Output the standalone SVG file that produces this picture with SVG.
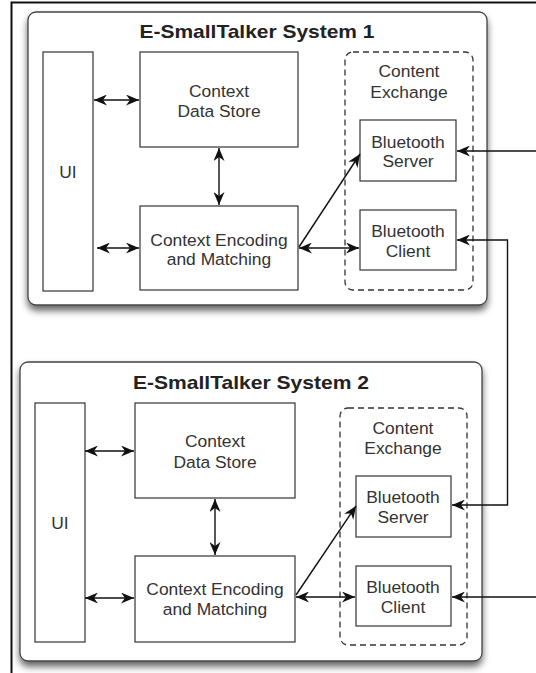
<svg xmlns="http://www.w3.org/2000/svg" width="536" height="673" viewBox="0 0 536 673">
<style>
.sys{fill:#fff;stroke:#444;stroke-width:1.3}
.box{fill:#fff;stroke:#333;stroke-width:1.2}
.dash{fill:none;stroke:#333;stroke-width:1.3;stroke-dasharray:6 4}
.t{font-family:"Liberation Sans",Arial,sans-serif;font-size:17.4px;fill:#333;text-anchor:middle}
.title{font-family:"Liberation Sans",Arial,sans-serif;font-size:19px;font-weight:bold;fill:#222;text-anchor:middle}
.c{fill:none;stroke:#111;stroke-width:1.4}
</style>
<defs>
<filter id="sh" x="-10%" y="-10%" width="120%" height="125%">
<feDropShadow dx="0" dy="5" stdDeviation="3.5" flood-color="#000" flood-opacity="0.6"/>
</filter>
<marker id="ah" viewBox="0 0 13 11" refX="13" refY="5.5" markerWidth="13" markerHeight="11" markerUnits="userSpaceOnUse" orient="auto-start-reverse">
<path d="M0,0 L13,5.5 L0,11 L4,5.5 z" fill="#111"/>
</marker>
</defs>
<rect width="536" height="673" fill="#fff"/>
<path d="M11.5,673 L11.5,2.5 L536,2.5" fill="none" stroke="#111" stroke-width="2"/>

<g id="system1">
<rect class="sys" x="28" y="12" width="459" height="293" rx="8" filter="url(#sh)"/>
<text class="title" x="257" y="38" textLength="235" lengthAdjust="spacingAndGlyphs">E-SmallTalker System 1</text>
</g>
<g id="ui1"><rect class="box" x="43" y="52" width="50" height="239"/><text class="t" x="68" y="178">UI</text></g>
<g id="store1"><rect class="box" x="140" y="52" width="158" height="95"/><text class="t" x="219" y="97">Context</text><text class="t" x="219" y="117">Data Store</text></g>
<g id="enc1"><rect class="box" x="140" y="206" width="158" height="84"/><text class="t" x="219" y="246">Context Encoding</text><text class="t" x="219" y="265">and Matching</text></g>
<g id="exchange1"><rect class="dash" x="345" y="52" width="128" height="238" rx="8"/><text class="t" x="409" y="77">Content</text><text class="t" x="409" y="98">Exchange</text></g>
<g id="server1"><rect class="box" x="360" y="120" width="96" height="61"/><text class="t" x="408" y="148">Bluetooth</text><text class="t" x="408" y="167">Server</text></g>
<g id="client1"><rect class="box" x="360" y="210" width="96" height="60"/><text class="t" x="408" y="237">Bluetooth</text><text class="t" x="408" y="257">Client</text></g>

<g id="system2">
<rect class="sys" x="20" y="362" width="462" height="299" rx="8" filter="url(#sh)"/>
<text class="title" x="251" y="389" textLength="236" lengthAdjust="spacingAndGlyphs">E-SmallTalker System 2</text>
</g>
<g id="ui2"><rect class="box" x="35" y="403" width="50" height="239"/><text class="t" x="60" y="529">UI</text></g>
<g id="store2"><rect class="box" x="135" y="403" width="160" height="95"/><text class="t" x="215" y="447">Context</text><text class="t" x="215" y="468">Data Store</text></g>
<g id="enc2"><rect class="box" x="135" y="556" width="160" height="86"/><text class="t" x="215" y="595">Context Encoding</text><text class="t" x="215" y="615">and Matching</text></g>
<g id="exchange2"><rect class="dash" x="340" y="408" width="127" height="237" rx="8"/><text class="t" x="403" y="434">Content</text><text class="t" x="403" y="454">Exchange</text></g>
<g id="server2"><rect class="box" x="356" y="476" width="95" height="61"/><text class="t" x="403" y="503">Bluetooth</text><text class="t" x="403" y="523">Server</text></g>
<g id="client2"><rect class="box" x="356" y="566" width="95" height="60"/><text class="t" x="403" y="593">Bluetooth</text><text class="t" x="403" y="613">Client</text></g>

<g id="connectors">
<line class="c" x1="94" y1="100" x2="139" y2="100" marker-start="url(#ah)" marker-end="url(#ah)"/>
<line class="c" x1="97" y1="248" x2="139" y2="248" marker-start="url(#ah)" marker-end="url(#ah)"/>
<line class="c" x1="219" y1="148" x2="219" y2="205" marker-start="url(#ah)" marker-end="url(#ah)"/>
<line class="c" x1="299" y1="247" x2="360" y2="154" marker-end="url(#ah)"/>
<line class="c" x1="299" y1="248" x2="359" y2="248" marker-start="url(#ah)" marker-end="url(#ah)"/>
<line class="c" x1="536" y1="151" x2="457" y2="151" marker-end="url(#ah)"/>
<polyline class="c" points="457,240 507.5,240 507.5,505 452,505" marker-start="url(#ah)" marker-end="url(#ah)"/>
<line class="c" x1="85" y1="451" x2="134" y2="451" marker-start="url(#ah)" marker-end="url(#ah)"/>
<line class="c" x1="85" y1="598" x2="134" y2="598" marker-start="url(#ah)" marker-end="url(#ah)"/>
<line class="c" x1="215" y1="499" x2="215" y2="555" marker-start="url(#ah)" marker-end="url(#ah)"/>
<line class="c" x1="296" y1="595" x2="356" y2="506" marker-end="url(#ah)"/>
<line class="c" x1="296" y1="597" x2="355" y2="597" marker-start="url(#ah)" marker-end="url(#ah)"/>
<line class="c" x1="536" y1="597" x2="452" y2="597" marker-end="url(#ah)"/>
</g>
</svg>
